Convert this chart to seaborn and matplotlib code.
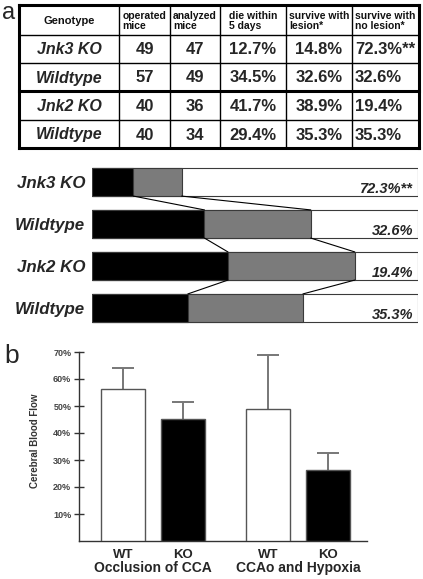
import matplotlib
matplotlib.use("Agg")
import matplotlib.pyplot as plt
import matplotlib.transforms as mtransforms
import numpy as np
import pandas as pd
import seaborn as sns

# ---------------- data ----------------
genotypes = ["Jnk3 KO", "Wildtype", "Jnk2 KO", "Wildtype"]
operated = [49, 57, 40, 40]
analyzed = [47, 49, 36, 34]
die_5d = [12.7, 34.5, 41.7, 29.4]
survive_lesion = [14.8, 32.6, 38.9, 35.3]
survive_no_lesion = [72.3, 32.6, 19.4, 35.3]
no_lesion_marks = ["**", "", "", ""]
headers = ["Genotype", "operated\nmice", "analyzed\nmice", "die within\n5 days",
           "survive with\nlesion*", "survive with\nno lesion*"]

conditions = ["Occlusion of CCA", "CCAo and Hypoxia"]
cbf_condition = ["Occlusion of CCA", "Occlusion of CCA", "CCAo and Hypoxia", "CCAo and Hypoxia"]
cbf_genotype = ["WT", "KO", "WT", "KO"]
cbf_mean = [56.3, 45.2, 48.8, 26.3]
cbf_err = [7.7, 6.2, 20.1, 6.2]
yticks_b = [10, 20, 30, 40, 50, 60, 70]

# ---------------- style ----------------
sns.set_style("white")
plt.rcParams["font.family"] = ["Liberation Sans", "DejaVu Sans"]

W, H = 423, 579
fig = plt.figure(figsize=(W / 100, H / 100), dpi=100)


def px_axes(x0, y0, x1, y1):
    return fig.add_axes([x0 / W, 1 - y1 / H, (x1 - x0) / W, (y1 - y0) / H])


# ---------------- table (panel a, top) ----------------
tax = px_axes(0, 0, W, H)
tax.set_xlim(0, W)
tax.set_ylim(H, 0)
tax.axis("off")

col_edges = [19, 119, 170, 220, 286, 352, 419]
row_edges = [5, 35, 63, 91, 120, 148]
for i, x in enumerate(col_edges):
    lw = 2.2 if i in (0, len(col_edges) - 1) else 1.0
    tax.plot([x, x], [row_edges[0], row_edges[-1]], color="black", lw=lw, solid_capstyle="projecting")
for i, y in enumerate(row_edges):
    lw = 2.2 if i in (0, 3, len(row_edges) - 1) else 1.0
    tax.plot([col_edges[0], col_edges[-1]], [y, y], color="black", lw=lw, solid_capstyle="projecting")

hy = (row_edges[0] + row_edges[1]) / 2
for j, h in enumerate(headers):
    cx = (col_edges[j] + col_edges[j + 1]) / 2
    tax.text(cx, hy + 1, h, ha="center", va="center", multialignment="left",
             fontsize=7.5 if j else 8, fontweight="bold", linespacing=1.0, color="#111")

for i in range(4):
    cy = (row_edges[i + 1] + row_edges[i + 2]) / 2 + 1
    cells = [genotypes[i], str(operated[i]), str(analyzed[i]), f"{die_5d[i]}%",
             f"{survive_lesion[i]}%"]
    for j, c in enumerate(cells):
        cx = (col_edges[j] + col_edges[j + 1]) / 2
        tax.text(cx, cy, c, ha="center", va="center", fontsize=12 if j else 11.5,
                 fontweight="bold", fontstyle="italic" if j == 0 else "normal")
    tax.text(col_edges[5] + 3, cy, f"{survive_no_lesion[i]}%{no_lesion_marks[i]}",
             ha="left", va="center", fontsize=12, fontweight="bold")

fig.text(2 / W, 1 - 13 / H, "a", fontsize=17, va="center", ha="left")
fig.text(4 / W, 1 - 356 / H, "b", fontsize=19, va="center", ha="left")

# ---------------- stacked bars (panel a, bottom) ----------------
sax = px_axes(92, 161, 418, 329)
df_a = pd.DataFrame({
    "row": list(range(4)),
    "die": die_5d,
    "cum": [d + l for d, l in zip(die_5d, survive_lesion)],
    "total": [100] * 4,
})
for col, colr in [("total", "white"), ("cum", "#7b7b7b"), ("die", "black")]:
    sns.barplot(data=df_a, x=col, y="row", orient="h", color=colr, edgecolor="#3a3a3a",
                linewidth=0.8, width=0.67, ax=sax, saturation=1)
sax.set_xlim(0, 100)
sax.set_ylim(3.5, -0.5)
half = 0.67 / 2
for i in range(3):
    for vals in (df_a["die"], df_a["cum"]):
        sax.plot([vals[i], vals[i + 1]], [i + half, i + 1 - half], color="black", lw=0.8)
for i in range(4):
    sax.text(98.5, i + 0.17, f"{survive_no_lesion[i]}%{no_lesion_marks[i]}", ha="right",
             va="center", fontsize=10.5, fontweight="bold", fontstyle="italic")
sax.set_yticks(range(4))
sax.set_yticklabels(genotypes, fontsize=12.2, fontweight="bold", fontstyle="italic")
sax.tick_params(axis="y", length=0, pad=5)
sax.set_xticks([])
sax.set_xlabel("")
sax.set_ylabel("")
for s in sax.spines.values():
    s.set_visible(False)

# ---------------- panel b ----------------
bax = px_axes(79, 352, 367, 541)
df_b = pd.DataFrame({"condition": cbf_condition, "genotype": cbf_genotype, "cbf": cbf_mean})
sns.barplot(data=df_b, x="condition", y="cbf", hue="genotype", order=conditions,
            hue_order=["WT", "KO"], palette={"WT": "white", "KO": "black"},
            edgecolor="#555555", linewidth=1.0, errorbar=None, gap=0.27, width=0.83,
            saturation=1, legend=False, ax=bax, zorder=3)
centers, labels = [], []
for hue_name, cont in zip(["WT", "KO"], bax.containers):
    for cond, bar in zip(conditions, cont):
        idx = [k for k in range(4) if cbf_condition[k] == cond and cbf_genotype[k] == hue_name][0]
        xc = bar.get_x() + bar.get_width() / 2
        eb = bax.errorbar(xc, cbf_mean[idx], yerr=[[0], [cbf_err[idx]]], color="#777777",
                          lw=1.4, capsize=8, capthick=1.4, zorder=2)
        caps = eb[1]
        if len(caps) > 1:
            caps[0].set_visible(False)
        centers.append(xc)
        labels.append(hue_name)
order = np.argsort(centers)
bax.set_xticks([centers[k] for k in order])
bax.set_xticklabels([labels[k] for k in order], fontsize=9.5, fontweight="bold")
bax.tick_params(axis="x", length=0, pad=6)
bax.set_xlim(-0.51, 1.476)
bax.set_ylim(0, 70)
bax.set_yticks(yticks_b)
bax.set_yticklabels([f"{t}%" for t in yticks_b], fontsize=6.5, fontweight="bold", color="#444")
bax.tick_params(axis="y", direction="inout", length=7, width=1, color="#333", pad=2, left=True)
trans = mtransforms.blended_transform_factory(bax.transData, bax.transAxes)
for k, cond in enumerate(conditions):
    bax.text(k, -0.145, cond, transform=trans, ha="center", va="center",
             fontsize=10, fontweight="bold")
bax.set_xlabel("")
bax.set_ylabel("Cerebral Blood Flow", fontsize=7, fontweight="bold", color="#333")
bax.yaxis.set_label_coords(-0.137, 0.53)
for s in ["top", "right"]:
    bax.spines[s].set_visible(False)
for s in ["left", "bottom"]:
    bax.spines[s].set_color("#333")
    bax.spines[s].set_linewidth(1.0)

fig.savefig("out.png", dpi=100)
